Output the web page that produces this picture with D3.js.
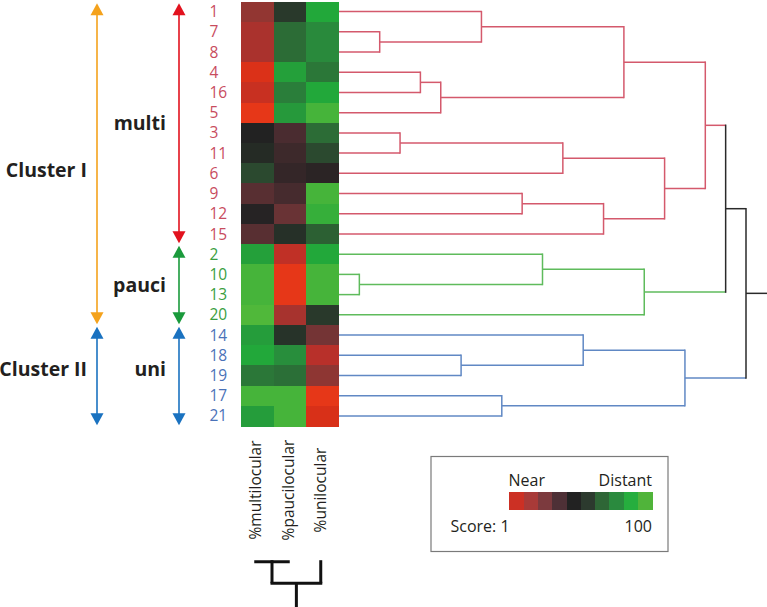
<!DOCTYPE html>
<html>
<head>
<meta charset="utf-8">
<script src="https://cdn.jsdelivr.net/npm/d3@7"></script>
<style>
  html, body { margin: 0; padding: 0; background: #ffffff; }
  svg { display: block; }
  text { font-family: "Open Sans", "Noto Sans", sans-serif; }
</style>
</head>
<body>
<script>
// ---------------- DATA ----------------
const rowOrder = ["1","7","8","4","16","5","3","11","6","9","12","15","2","10","13","20","14","18","19","17","21"];
const rowGroup = ["multi","multi","multi","multi","multi","multi","multi","multi","multi","multi","multi","multi",
                  "pauci","pauci","pauci","pauci","uni","uni","uni","uni","uni"];
const columns = ["%multilocular", "%paucilocular", "%unilocular"];
// scores (1 = near, 100 = distant), one value per row in rowOrder
const multiScore = [27, 20, 20,  7, 12,  3, 55, 58, 67, 42, 54, 42, 89, 98, 98, 100, 88, 91, 78, 98, 88];
const pauciScore = [63, 75, 75, 89, 80, 87, 46, 49, 51, 47, 37, 60, 14,  3,  3, 21, 61, 84, 76, 98, 98];
const uniScore   = [91, 83, 83, 78, 91, 98, 75, 67, 53, 98, 95, 72, 91, 98, 98, 63, 34, 16, 28,  3,  8];
// row dendrogram: [mergeHeight, left, right]; leaves are row labels
const rowTree = [20,
  [19,
    [18,
      [14, [7, "1", [2, "7", "8"]], [5, [4, "4", "16"], "5"]],
      [16, [11, [3, "3", "11"], "6"], [13, [9, "9", "12"], "15"]]
    ],
    [15, [10, "2", [1, "10", "13"]], "20"]
  ],
  [17, [12, "14", [6, "18", "19"]], [8, "17", "21"]]
];
// column dendrogram
const colTree = [1, [0, "%multilocular", "%paucilocular"], "%unilocular"];
// bracket arrows
const clusterArrows = [
  {label: "Cluster I",  first: "1",  last: "20"},
  {label: "Cluster II", first: "14", last: "21"}
];
const groupArrows = [
  {label: "multi", first: "1",  last: "15"},
  {label: "pauci", first: "2",  last: "20"},
  {label: "uni",   first: "14", last: "21"}
];
// legend
const legendTitles = ["Near", "Distant"];
const legendScoreLabels = ["Score: 1", "100"];
const legendColors = ["#cc3024","#a83a38","#7c3a3e","#4e3036","#222222","#2c3a2e","#2e6636","#2a8a3e","#26ae3e","#50b43a"];

// ---------------- STYLE ----------------
const scoreStops = [1, 8, 16, 26, 36, 46, 55, 64, 73, 82, 91, 100];
const colorStops = ["#ec3a18","#d83018","#b8302a","#963632","#6c3436","#4a2c30","#222222","#2a3c2c","#2c6434","#2a863c","#22a83a","#50b83a"];
const linkColor = {multi: "#d4596c", pauci: "#5fbb5c", uni: "#6088c4", mixed: "#2a2a2a"};
const labelColor = {multi: "#c84c5e", pauci: "#3a9e40", uni: "#4a72b8"};
const arrowColor = {"Cluster I": "#f4a21c", "Cluster II": "#1a72c0", multi: "#e2121e", pauci: "#1a9a3c", uni: "#1a72c0"};
const labelOffset = {"Cluster I": 6.5, "Cluster II": -6.5, multi: 0, pauci: 0, uni: -6.5};

// ---------------- CHART ----------------
const W = 767, H = 607;
const svg = d3.select("body").append("svg").attr("width", W).attr("height", H);

const y = d3.scaleBand().domain(rowOrder).range([1.5, 426]);
const bw = y.bandwidth();
const x = d3.scaleBand().domain(columns).range([241, 338.5]);
const hx = d3.scaleLinear().domain([0, 20]).range([339, 746]);
const color = d3.scaleLinear().domain(scoreStops).range(colorStops).interpolate(d3.interpolateRgb).clamp(true);

// heatmap
const scoreCols = [multiScore, pauciScore, uniScore];
const cells = [];
rowOrder.forEach((r, i) => columns.forEach((c, j) => cells.push({r, c, v: scoreCols[j][i]})));
svg.append("g").selectAll("rect").data(cells).join("rect")
  .attr("x", d => x(d.c)).attr("y", d => y(d.r))
  .attr("width", x.bandwidth() + 0.6).attr("height", bw + 0.6)
  .attr("fill", d => color(d.v))
  .attr("shape-rendering", "crispEdges");

// row labels
svg.append("g").selectAll("text").data(rowOrder).join("text")
  .attr("x", 209.5).attr("y", d => y(d) + bw / 2)
  .attr("dy", "0.36em")
  .attr("font-size", 15.5)
  .attr("fill", (d, i) => labelColor[rowGroup[i]])
  .text(d => d);

// row dendrogram
const gTree = svg.append("g").attr("fill", "none").attr("stroke-width", 1.5);
function layoutRow(node) {
  if (typeof node === "string") {
    const i = rowOrder.indexOf(node);
    return {x: hx(0), y: y(node) + bw / 2, group: rowGroup[i]};
  }
  const [h, a, b] = node;
  const ca = layoutRow(a), cb = layoutRow(b);
  const nx = hx(h);
  const ny = (ca.y + cb.y) / 2;
  const group = ca.group === cb.group ? ca.group : "mixed";
  [ca, cb].forEach(c => {
    gTree.append("line").attr("x1", c.x).attr("x2", nx).attr("y1", c.y).attr("y2", c.y)
      .attr("stroke", linkColor[c.group]);
  });
  gTree.append("line").attr("x1", nx).attr("x2", nx).attr("y1", ca.y - 0.75).attr("y2", cb.y + 0.75)
    .attr("stroke", linkColor[group]);
  return {x: nx, y: ny, group};
}
const root = layoutRow(rowTree);
gTree.append("line").attr("x1", root.x).attr("x2", W).attr("y1", root.y).attr("y2", root.y)
  .attr("stroke", linkColor.mixed);

// column labels
const colCenter = c => x(c) + x.bandwidth() / 2 - 1.5;
svg.append("g").selectAll("text").data(columns).join("text")
  .attr("transform", d => `translate(${colCenter(d)},490) rotate(-90)`)
  .attr("text-anchor", "middle").attr("dy", "0.36em")
  .attr("font-size", 15.5).attr("fill", "#231f20")
  .text(d => d);

// column dendrogram
const cy = d3.scaleLinear().domain([0, 1]).range([561.7, 583.3]);
const gCol = svg.append("g").attr("fill", "none").attr("stroke", "#111").attr("stroke-width", 3);
function layoutCol(node) {
  if (typeof node === "string") return {x: colCenter(node), y: cy(0)};
  const [h, a, b] = node;
  const ca = layoutCol(a), cb = layoutCol(b);
  const ny = cy(h);
  [ca, cb].forEach(c => {
    if (c.y !== ny) gCol.append("line").attr("x1", c.x).attr("x2", c.x).attr("y1", c.y - 1.5).attr("y2", ny);
  });
  gCol.append("line").attr("x1", ca.x - 1.5).attr("x2", cb.x + 1.5).attr("y1", ny).attr("y2", ny);
  return {x: (ca.x + cb.x) / 2, y: ny};
}
const cRoot = layoutCol(colTree);
gCol.append("line").attr("x1", cRoot.x).attr("x2", cRoot.x).attr("y1", cRoot.y).attr("y2", H);

// bracket arrows
function drawArrow(spec, ax, labelX, fontSize) {
  const top = y(spec.first) + 1.8;
  const bot = y(spec.last) + bw - 0.8;
  const col = arrowColor[spec.label];
  const hl = 12, hw = 6.5;
  const g = svg.append("g");
  g.append("line").attr("x1", ax).attr("x2", ax).attr("y1", top + hl - 1).attr("y2", bot - hl + 1)
    .attr("stroke", col).attr("stroke-width", 1.6);
  g.append("path").attr("d", `M${ax},${top}L${ax - hw},${top + hl}L${ax + hw},${top + hl}Z`).attr("fill", col);
  g.append("path").attr("d", `M${ax},${bot}L${ax - hw},${bot - hl}L${ax + hw},${bot - hl}Z`).attr("fill", col);
  g.append("text").attr("x", labelX).attr("y", (top + bot) / 2 + labelOffset[spec.label])
    .attr("dy", "0.36em").attr("text-anchor", "end")
    .attr("font-size", fontSize).attr("font-weight", 700).attr("fill", "#231f20")
    .text(spec.label);
}
clusterArrows.forEach(s => drawArrow(s, 97, 87, 19.5));
groupArrows.forEach(s => drawArrow(s, 179, 166, 19.5));

// legend
const lg = svg.append("g");
lg.append("rect").attr("x", 431).attr("y", 456.5).attr("width", 237).attr("height", 95)
  .attr("fill", "#fff").attr("stroke", "#7a7a7a").attr("stroke-width", 1.2);
const lx = d3.scaleBand().domain(d3.range(legendColors.length)).range([509.3, 652.3]);
lg.selectAll("rect.sw").data(legendColors).join("rect").attr("class", "sw")
  .attr("x", (d, i) => lx(i)).attr("y", 492.3).attr("width", lx.bandwidth() + 0.4).attr("height", 17.7)
  .attr("fill", d => d).attr("shape-rendering", "crispEdges");
const lfs = 16;
lg.append("text").attr("x", 508.5).attr("y", 486).attr("font-size", lfs).attr("fill", "#231f20").text(legendTitles[0]);
lg.append("text").attr("x", 652).attr("y", 486).attr("text-anchor", "end").attr("font-size", lfs).attr("fill", "#231f20").text(legendTitles[1]);
lg.append("text").attr("x", 450.5).attr("y", 532).attr("font-size", lfs).attr("fill", "#231f20").text(legendScoreLabels[0]);
lg.append("text").attr("x", 652).attr("y", 532).attr("text-anchor", "end").attr("font-size", lfs).attr("fill", "#231f20").text(legendScoreLabels[1]);
</script>
</body>
</html>
